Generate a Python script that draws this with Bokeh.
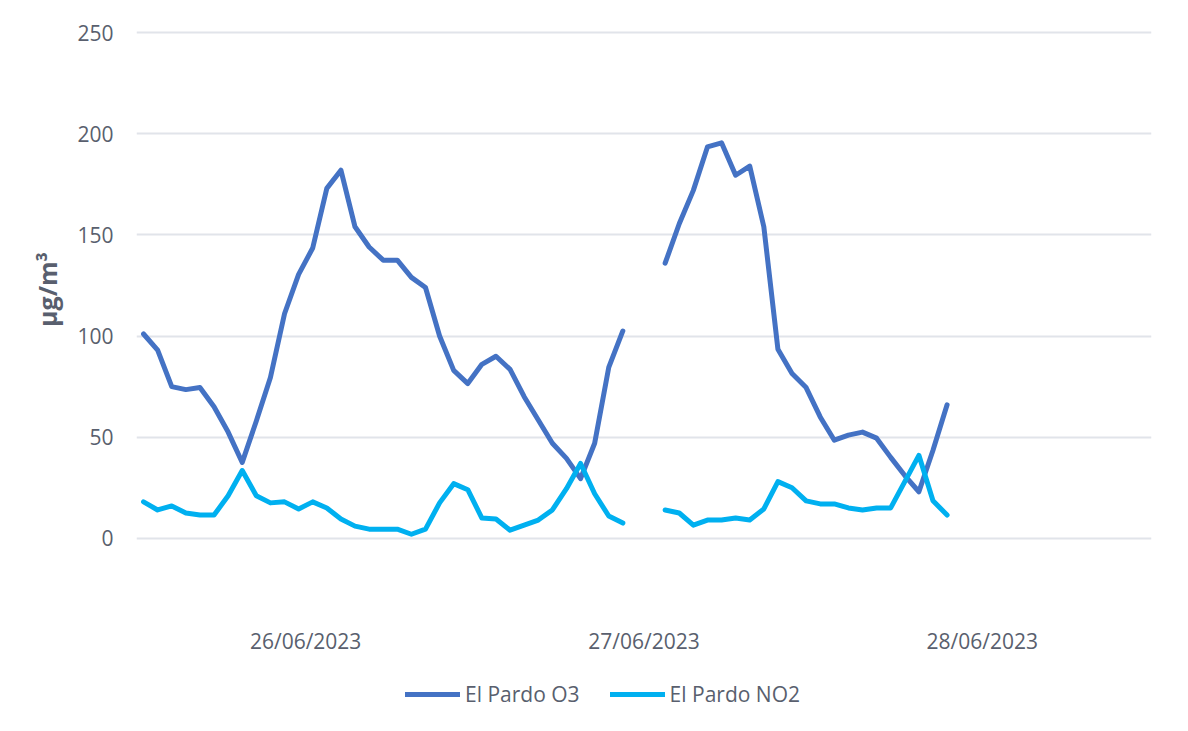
from bokeh.plotting import figure
from bokeh.layouts import column
from bokeh.models import Range1d, FixedTicker, Legend, LegendItem, ColumnDataSource
from bokeh.embed import file_html
from bokeh.resources import INLINE

# ---- data (hourly values, starting 26/06/2023 00:00) ----
hours = list(range(58))
o3 = [101, 93, 75, 73.5, 74.5, 65, 52.5, 37.5, 58, 79.5, 111, 130.5, 143.5, 173, 182,
      154, 144, 137.5, 137.5, 129, 124, 100, 83, 76.5, 86, 90, 83.5, 70, 58.5, 47,
      39.5, 29.5, 47, 84.5, 102.5, None, None, 136, 155.5, 172, 193.5, 195.5, 179.5,
      184, 154, 93.5, 81.5, 74.5, 60, 48.5, 51, 52.5, 49.5, 40, 31, 23, 43.5, 66]
no2 = [18, 14, 16, 12.5, 11.5, 11.5, 21, 33.5, 21, 17.5, 18, 14.5, 18, 15, 9.5,
       6, 4.5, 4.5, 4.5, 2, 4.5, 17.5, 27, 24, 10, 9.5, 4, 6.5, 9, 14,
       24.5, 37, 22, 11, 7.5, None, None, 14, 12.5, 6.5, 9, 9, 10,
       9, 14.5, 28, 25, 18.5, 17, 17, 15, 14, 15, 15, 28, 41, 18.5, 11.5]
date_labels = ["26/06/2023", "27/06/2023", "28/06/2023"]
date_ticks = [11.5, 35.5, 59.5]          # centre of each day's 24 hourly categories
y_ticks = [0, 50, 100, 150, 200, 250]
series_names = ["El Pardo O3", "El Pardo NO2"]
series_colors = ["#4472C4", "#00B0F0"]

def clean(vals):
    return [float("nan") if v is None else v for v in vals]

src = ColumnDataSource(dict(x=hours, o3=clean(o3), no2=clean(no2)))

FONT = "Open Sans"
TEXT = "#595f6e"
W = 1188
H_MAIN = 665
H_LEG = 66

p = figure(width=W, height=H_MAIN, output_backend="svg", toolbar_location=None,
           x_range=Range1d(-0.5, 71.5), y_range=Range1d(-10, 256),
           min_border_left=136, min_border_right=37, min_border_top=20,
           min_border_bottom=H_MAIN - 558, background_fill_color="white",
           border_fill_color="white")
p.outline_line_color = None

r1 = p.line("x", "o3", source=src, line_color=series_colors[0], line_width=5,
            line_join="round", line_cap="round")
r2 = p.line("x", "no2", source=src, line_color=series_colors[1], line_width=5,
            line_join="round", line_cap="round")

# x axis
xa = p.xaxis[0]
xa.ticker = FixedTicker(ticks=date_ticks)
xa.major_label_overrides = {t: l for t, l in zip(date_ticks, date_labels)}
xa.axis_line_color = None
xa.major_tick_line_color = None
xa.minor_tick_line_color = None
xa.major_label_standoff = 62
xa.major_label_text_font = FONT
xa.major_label_text_font_size = "21px"
xa.major_label_text_color = TEXT
p.xgrid.visible = False

# y axis
ya = p.yaxis[0]
ya.ticker = FixedTicker(ticks=y_ticks)
ya.axis_line_color = None
ya.major_tick_line_color = None
ya.minor_tick_line_color = None
ya.major_label_standoff = 17
ya.major_label_text_font = FONT
ya.major_label_text_font_size = "21px"
ya.major_label_text_color = TEXT
ya.axis_label = "µg/m³"
ya.axis_label_text_font = FONT
ya.axis_label_text_font_style = "bold"
ya.axis_label_text_font_size = "25px"
ya.axis_label_text_color = TEXT
ya.axis_label_standoff = 10
p.ygrid.grid_line_color = "#e1e4ea"
p.ygrid.grid_line_width = 2

# legend strip underneath (its frame is aligned with the main frame by the column)
pl = figure(width=W, height=H_LEG, output_backend="svg", toolbar_location=None,
            x_range=Range1d(0, 10), y_range=Range1d(0, H_LEG),
            min_border=0, background_fill_color="white", border_fill_color="white")
pl.axis.visible = False
pl.grid.visible = False
pl.outline_line_color = None
l1 = pl.line(x=[-5, -4], y=[-5, -5], line_color=series_colors[0], line_width=5,
             line_cap="round")
l2 = pl.line(x=[-5, -4], y=[-5, -5], line_color=series_colors[1], line_width=5,
             line_cap="round")
legend = Legend(items=[LegendItem(label=series_names[0], renderers=[l1]),
                       LegendItem(label=series_names[1], renderers=[l2])],
                orientation="horizontal", location=(269, 23),
                glyph_width=55, label_standoff=5, spacing=30, padding=0,
                margin=0, border_line_color=None, background_fill_alpha=0,
                label_text_font=FONT, label_text_font_size="21px",
                label_text_color=TEXT)
pl.add_layout(legend)

open("out.html", "w").write(file_html(column(p, pl, spacing=0), INLINE))
